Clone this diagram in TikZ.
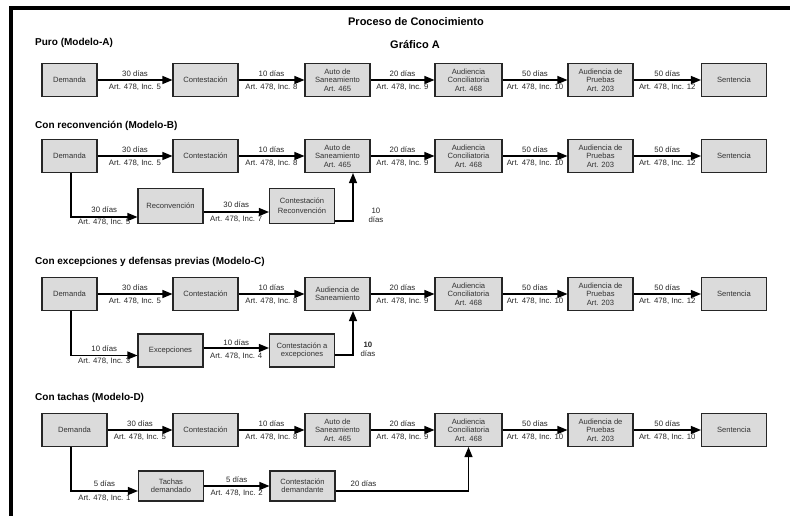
\documentclass[tikz,border=0pt]{standalone}
\usepackage{fontspec}
\setmainfont{Liberation Sans}
\usetikzlibrary{arrows.meta}
\begin{document}
\begin{tikzpicture}[x=1pt,y=-1pt,
  box/.style={draw=black!85,line width=1.1pt,fill=black!14,minimum width=65pt,
    minimum height=33pt,inner sep=1pt,align=center,
    font=\fontsize{7.6}{8.3}\selectfont,text=black!80},
  arr/.style={line width=1.2pt,-{Triangle[length=10pt,width=8pt]}},
  lab/.style={font=\fontsize{7.8}{9}\selectfont,inner sep=1pt,text=black!85},
  sec/.style={font=\bfseries\fontsize{10}{12}\selectfont,anchor=west,inner sep=0pt},
  head/.style={font=\bfseries\fontsize{11}{13}\selectfont,inner sep=0pt},
]
\useasboundingbox (0,0) rectangle (790,516);
% frame
\draw[line width=3.5pt,line join=miter] (790,8) -- (11,8) -- (11,516);

\node[head] (title) at (416,22) {Proceso de Conocimiento};
\node[head] (graf) at (415,45) {Gráfico A};

% ---------------- Modelo A ----------------
\node[sec] (tA) at (35,43) {Puro (Modelo-A)};
\node[box,minimum width=55pt] (dA) at (69.5,80) {Demanda};
\node[box] (cA) at (205.5,80) {Contestación};
\node[box] (sA) at (337.5,80) {Auto de\\Saneamiento\\Art. 465};
\node[box,minimum width=67pt] (acA) at (468.5,80) {Audiencia\\Conciliatoria\\Art. 468};
\node[box] (apA) at (600.5,80) {Audiencia de\\Pruebas\\Art. 203};
\node[box] (snA) at (734,80) {Sentencia};
\draw[arr] (dA) -- node[lab,above=1.5pt]{30 días} node[lab,below=2pt]{Art. 478, Inc. 5} (cA);
\draw[arr] (cA) -- node[lab,above=1.5pt]{10 días} node[lab,below=2pt]{Art. 478, Inc. 8} (sA);
\draw[arr] (sA) -- node[lab,above=1.5pt]{20 días} node[lab,below=2pt]{Art. 478, Inc. 9} (acA);
\draw[arr] (acA) -- node[lab,above=1.5pt]{50 días} node[lab,below=2pt]{Art. 478, Inc. 10} (apA);
\draw[arr] (apA) -- node[lab,above=1.5pt]{50 días} node[lab,below=2pt]{Art. 478, Inc. 12} (snA);

% ---------------- Modelo B ----------------
\node[sec] (tB) at (35,126) {Con reconvención (Modelo-B)};
\node[box,minimum width=55pt] (dB) at (69.5,156) {Demanda};
\node[box] (cB) at (205.5,156) {Contestación};
\node[box] (sB) at (337.5,156) {Auto de\\Saneamiento\\Art. 465};
\node[box,minimum width=67pt] (acB) at (468.5,156) {Audiencia\\Conciliatoria\\Art. 468};
\node[box] (apB) at (600.5,156) {Audiencia de\\Pruebas\\Art. 203};
\node[box] (snB) at (734,156) {Sentencia};
\draw[arr] (dB) -- node[lab,above=1.5pt]{30 días} node[lab,below=2pt]{Art. 478, Inc. 5} (cB);
\draw[arr] (cB) -- node[lab,above=1.5pt]{10 días} node[lab,below=2pt]{Art. 478, Inc. 8} (sB);
\draw[arr] (sB) -- node[lab,above=1.5pt]{20 días} node[lab,below=2pt]{Art. 478, Inc. 9} (acB);
\draw[arr] (acB) -- node[lab,above=1.5pt]{50 días} node[lab,below=2pt]{Art. 478, Inc. 10} (apB);
\draw[arr] (apB) -- node[lab,above=1.5pt]{50 días} node[lab,below=2pt]{Art. 478, Inc. 12} (snB);

\node[box,minimum height=35pt] (recB) at (170.5,206) {Reconvención};
\node[box,minimum height=35pt] (crB) at (302,206) {Contestación\\[2pt]Reconvención};
\draw[arr] ([xshift=1.5pt]dB.south) |- node[lab,pos=0.75,above=2.5pt]{30 días}
  node[lab,pos=0.75,below=0.5pt]{Art. 478, Inc. 5} ([yshift=-11pt]recB.west);
\draw[arr] ([yshift=-6pt]recB.east) -- node[lab,above=2.5pt]{30 días}
  node[lab,below=2.5pt]{Art. 478, Inc. 7} ([yshift=-6pt]crB.west);
\draw[arr] ([yshift=-15pt]crB.east) -| node[lab,pos=0.56,right=14pt,align=center]{10\\días}
  ([xshift=15.5pt]sB.south);

% ---------------- Modelo C ----------------
\node[sec] (tC) at (35,262) {Con excepciones y defensas previas (Modelo-C)};
\node[box,minimum width=55pt] (dC) at (69.5,294) {Demanda};
\node[box] (cC) at (205.5,294) {Contestación};
\node[box] (sC) at (337.5,294) {Audiencia de\\Saneamiento};
\node[box,minimum width=67pt] (acC) at (468.5,294) {Audiencia\\Conciliatoria\\Art. 468};
\node[box] (apC) at (600.5,294) {Audiencia de\\Pruebas\\Art. 203};
\node[box] (snC) at (734,294) {Sentencia};
\draw[arr] (dC) -- node[lab,above=1.5pt]{30 días} node[lab,below=2pt]{Art. 478, Inc. 5} (cC);
\draw[arr] (cC) -- node[lab,above=1.5pt]{10 días} node[lab,below=2pt]{Art. 478, Inc. 8} (sC);
\draw[arr] (sC) -- node[lab,above=1.5pt]{20 días} node[lab,below=2pt]{Art. 478, Inc. 9} (acC);
\draw[arr] (acC) -- node[lab,above=1.5pt]{50 días} node[lab,below=2pt]{Art. 478, Inc. 10} (apC);
\draw[arr] (apC) -- node[lab,above=1.5pt]{50 días} node[lab,below=2pt]{Art. 478, Inc. 12} (snC);

\node[box] (exC) at (170.5,350.5) {Excepciones};
\node[box] (ceC) at (302,350.5) {Contestación a\\excepciones};
\draw[arr] ([xshift=1.5pt]dC.south) |- node[lab,pos=0.75,above=2.5pt]{10 días}
  node[lab,pos=0.75,below=0.5pt]{Art. 478, Inc. 3} ([yshift=-5pt]exC.west);
\draw[arr] ([yshift=2.5pt]exC.east) -- node[lab,above=1pt]{10 días}
  node[lab,below=3.5pt]{Art. 478, Inc. 4} ([yshift=2.5pt]ceC.west);
\draw[arr] ([yshift=-4.5pt]ceC.east) -| node[lab,pos=0.56,right=6pt,align=center]{\textbf{10}\\días}
  ([xshift=15.5pt]sC.south);

% ---------------- Modelo D ----------------
\node[sec] (tD) at (35,398) {Con tachas (Modelo-D)};
\node[box] (dD) at (74.5,430) {Demanda};
\node[box] (cD) at (205.5,430) {Contestación};
\node[box] (sD) at (337.5,430) {Auto de\\Saneamiento\\Art. 465};
\node[box,minimum width=67pt] (acD) at (468.5,430) {Audiencia\\Conciliatoria\\Art. 468};
\node[box] (apD) at (600.5,430) {Audiencia de\\Pruebas\\Art. 203};
\node[box] (snD) at (734,430) {Sentencia};
\draw[arr] (dD) -- node[lab,above=1.5pt]{30 días} node[lab,below=2pt]{Art. 478, Inc. 5} (cD);
\draw[arr] (cD) -- node[lab,above=1.5pt]{10 días} node[lab,below=2pt]{Art. 478, Inc. 8} (sD);
\draw[arr] (sD) -- node[lab,above=1.5pt]{20 días} node[lab,below=2pt]{Art. 478, Inc. 9} (acD);
\draw[arr] (acD) -- node[lab,above=1.5pt]{50 días} node[lab,below=2pt]{Art. 478, Inc. 10} (apD);
\draw[arr] (apD) -- node[lab,above=1.5pt]{50 días} node[lab,below=2pt]{Art. 478, Inc. 10} (snD);

\node[box,minimum height=30pt] (taD) at (171,486) {Tachas\\demandado};
\node[box,minimum height=30pt] (cdD) at (302.5,486) {Contestación\\demandante};
\draw[arr] ([xshift=-3.5pt]dD.south) |- node[lab,pos=0.75,above=2.5pt]{5 días}
  node[lab,pos=0.75,below=2.5pt]{Art. 478, Inc. 1} ([yshift=-5pt]taD.west);
\draw[arr] (taD) -- node[lab,above=1.5pt]{5 días} node[lab,below=2.5pt]{Art. 478, Inc. 2} (cdD);
\draw[arr] ([yshift=-5pt]cdD.east) -| node[lab,pos=0.105,above=2.5pt]{20 días} (acD.south);
\end{tikzpicture}
\end{document}
